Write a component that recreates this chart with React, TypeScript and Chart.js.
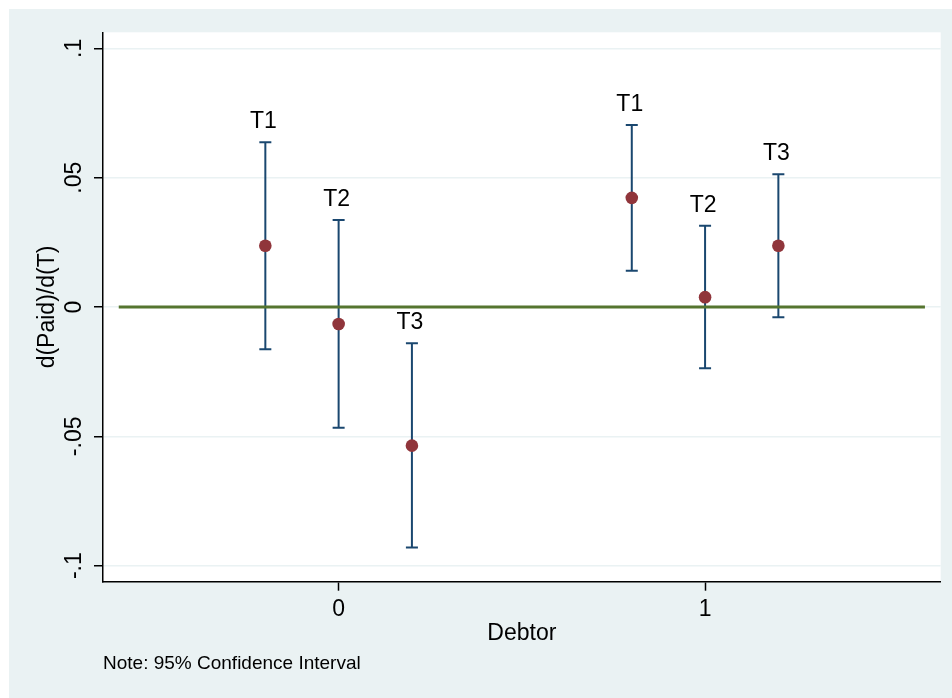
import { useEffect, useRef } from "react";
import { Chart, registerables } from "chart.js";

Chart.register(...registerables);

// marginal effects by treatment, two debtor groups
const treatLabels = ["T1", "T2", "T3", "T1", "T2", "T3"];
const xPos = [-0.2, 0, 0.2, 0.8, 1, 1.2];
const estimates = [0.0237, -0.0066, -0.0536, 0.0422, 0.0038, 0.0237];
const ciLow = [-0.0163, -0.0467, -0.093, 0.014, -0.0237, -0.004];
const ciHigh = [0.0637, 0.0336, -0.014, 0.0704, 0.0314, 0.0513];

const xTicks = [0, 1];
const yTicks = [-0.1, -0.05, 0, 0.05, 0.1];
const refLineX = [-0.6, 1.6];

const NAVY = "#1A476F";
const MAROON = "#90353B";
const GREEN = "#55752F";
const BG = "#EAF2F3";
const FONT = "'Liberation Sans', Arial, sans-serif";

function fmtTick(v: number) {
  if (v === 0) return "0";
  const s = String(Math.round(v * 1000) / 1000);
  return s.replace("0.", ".");
}

const plotBg = {
  id: "plotBg",
  beforeDraw(chart: Chart) {
    const { ctx, chartArea } = chart;
    ctx.save();
    ctx.fillStyle = "#ffffff";
    ctx.fillRect(chartArea.left, chartArea.top, chartArea.right - chartArea.left, chartArea.bottom - chartArea.top);
    ctx.restore();
  },
};

const pointLabels = {
  id: "pointLabels",
  afterDatasetsDraw(chart: Chart) {
    const { ctx } = chart;
    const xs = chart.scales.x;
    const ys = chart.scales.y;
    ctx.save();
    ctx.font = `23px ${FONT}`;
    ctx.fillStyle = "#000";
    ctx.textAlign = "center";
    ctx.textBaseline = "alphabetic";
    treatLabels.forEach((lab, i) => {
      ctx.fillText(lab, xs.getPixelForValue(xPos[i]) - 2, ys.getPixelForValue(ciHigh[i]) - 14);
    });
    ctx.restore();
  },
};

export default function App() {
  const canvasRef = useRef<HTMLCanvasElement>(null);
  const chartRef = useRef<Chart | null>(null);

  useEffect(() => {
    if (!canvasRef.current) return;
    if (chartRef.current) chartRef.current.destroy();

    const ciSets = xPos.map((x, i) => ({
      type: "line" as const,
      data: [
        { x, y: ciLow[i] },
        { x, y: ciHigh[i] },
      ],
      borderColor: NAVY,
      borderWidth: 2,
      pointStyle: "line" as const,
      pointRadius: 6,
      pointBorderWidth: 2,
      pointBorderColor: NAVY,
      order: 3,
    }));

    chartRef.current = new Chart(canvasRef.current, {
      type: "scatter",
      data: {
        datasets: [
          ...ciSets,
          {
            type: "line",
            data: refLineX.map((x) => ({ x, y: 0 })),
            borderColor: GREEN,
            borderWidth: 3,
            pointRadius: 0,
            order: 2,
          },
          {
            type: "scatter",
            data: xPos.map((x, i) => ({ x, y: estimates[i] })),
            backgroundColor: MAROON,
            borderWidth: 0,
            pointRadius: 6.3,
            order: 1,
          },
        ],
      },
      options: {
        responsive: true,
        maintainAspectRatio: false,
        animation: false,
        layout: { padding: { top: 23.3, right: 11.3, left: 0, bottom: 22.5 } },
        plugins: {
          legend: { display: false },
          tooltip: { enabled: false },
          subtitle: {
            display: true,
            text: "Note: 95% Confidence Interval",
            position: "bottom",
            align: "start",
            fullSize: false,
            color: "#000",
            font: { family: FONT, size: 19, weight: "normal" },
            padding: { top: 5, bottom: 0 },
          },
        },
        scales: {
          x: {
            type: "linear",
            min: -0.643,
            max: 1.643,
            afterBuildTicks: (scale) => {
              scale.ticks = xTicks.map((v) => ({ value: v }));
            },
            afterFit: (scale) => {
              scale.height = 66;
            },
            grid: { drawOnChartArea: false, drawTicks: true, tickLength: 9, tickColor: "#000", tickWidth: 1.5 },
            border: { color: "#000", width: 1.5 },
            ticks: {
              color: "#000",
              padding: 5,
              font: { family: FONT, size: 23 },
              callback: (v) => String(v),
            },
            title: {
              display: true,
              text: "Debtor",
              color: "#000",
              font: { family: FONT, size: 23 },
              padding: { top: 0, bottom: 0 },
            },
          },
          y: {
            type: "linear",
            min: -0.1062,
            max: 0.1062,
            afterBuildTicks: (scale) => {
              scale.ticks = yTicks.map((v) => ({ value: v }));
            },
            afterFit: (scale) => {
              scale.width = 94;
            },
            grid: { color: BG, lineWidth: 1.5, drawTicks: true, tickLength: 9, tickColor: "#000", tickWidth: 1.5 },
            border: { color: "#000", width: 1.5 },
            ticks: {
              color: "#000",
              padding: 0,
              minRotation: 90,
              maxRotation: 90,
              crossAlign: "center",
              font: { family: FONT, size: 23 },
              callback: (v) => fmtTick(Number(v)),
            },
            title: {
              display: true,
              text: "d(Paid)/d(T)",
              color: "#000",
              font: { family: FONT, size: 23 },
              padding: { top: 24.7, bottom: 0 },
            },
          },
        },
      },
      plugins: [plotBg, pointLabels],
    });

    return () => {
      if (chartRef.current) {
        chartRef.current.destroy();
        chartRef.current = null;
      }
    };
  }, []);

  return (
    <div style={{ position: "fixed", left: 9, top: 9, width: 943, height: 689, background: BG }}>
      <canvas ref={canvasRef} />
    </div>
  );
}
